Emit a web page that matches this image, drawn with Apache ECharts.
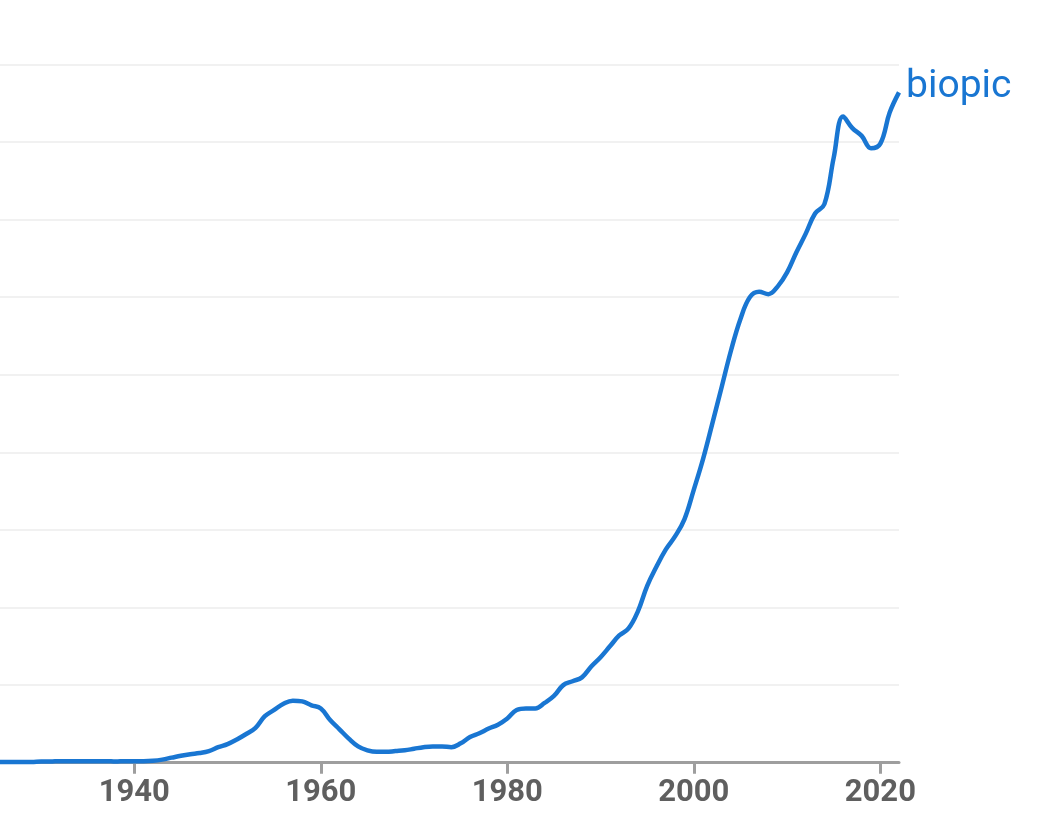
<!DOCTYPE html>
<html>
<head>
<meta charset="utf-8">
<script src="https://cdn.jsdelivr.net/npm/echarts@6/dist/echarts.min.js"></script>
<style>
  html, body { margin: 0; padding: 0; background: #ffffff; }
  #chart { width: 1048px; height: 838px; }
</style>
</head>
<body>
<div id="chart"></div>
<script>
// yearly values (one unit = one gridline)
const years = [];
for (let y = 1925; y <= 2022; y++) years.push(y);

const biopic = [
  0.01, 0.01, 0.01, 0.01, 0.01, 0.015, 0.015, 0.02, 0.02, 0.02,      // 1925-1934
  0.02, 0.02, 0.02, 0.015, 0.02, 0.02, 0.02, 0.025, 0.04, 0.065,     // 1935-1944
  0.09, 0.11, 0.125, 0.15, 0.2, 0.24, 0.30, 0.37, 0.45, 0.60,        // 1945-1954
  0.68, 0.76, 0.80, 0.79, 0.74, 0.70, 0.55, 0.43, 0.31, 0.21,        // 1955-1964
  0.16, 0.14, 0.14, 0.15, 0.16, 0.18, 0.20, 0.21, 0.21, 0.20,        // 1965-1974
  0.25, 0.33, 0.38, 0.44, 0.49, 0.57, 0.68, 0.70, 0.70, 0.77,        // 1975-1984
  0.86, 1.00, 1.05, 1.10, 1.24, 1.36, 1.50, 1.64, 1.73, 1.95,        // 1985-1994
  2.28, 2.53, 2.75, 2.92, 3.14, 3.52, 3.92, 4.38, 4.85, 5.32,        // 1995-2004
  5.72, 6.00, 6.07, 6.04, 6.14, 6.32, 6.58, 6.82, 7.08, 7.20,        // 2005-2014
  7.80, 8.33, 8.18, 8.08, 7.92, 7.98, 8.38, 8.64                     // 2015-2022
];

const tickYears = [1940, 1960, 1980, 2000, 2020];
const seriesName = 'biopic';

const chart = echarts.init(document.getElementById('chart'), null, { renderer: 'canvas' });

const option = {
  animation: false,
  grid: {
    left: 0,
    right: 149,
    top: 64.5,
    bottom: 75.3,
    containLabel: false
  },
  xAxis: {
    type: 'value',
    min: 1925.6,
    max: 2022,
    axisLine: {
      show: true,
      lineStyle: { color: '#9e9e9e', width: 3 }
    },
    axisTick: {
      show: true,
      customValues: tickYears,
      length: 11,
      lineStyle: { color: '#9e9e9e', width: 3 }
    },
    axisLabel: {
      customValues: tickYears,
      color: '#5f5f5f',
      fontSize: 31,
      fontWeight: 'bold',
      fontFamily: 'Roboto',
      margin: 15,
      formatter: (v) => String(v)
    },
    splitLine: { show: false }
  },
  yAxis: {
    type: 'value',
    min: 0,
    max: 9,
    interval: 1,
    axisLine: { show: false },
    axisTick: { show: false },
    axisLabel: { show: false },
    splitLine: {
      show: true,
      lineStyle: { color: '#f1f1f1', width: 2 }
    }
  },
  series: [
    {
      name: seriesName,
      type: 'line',
      data: years.map((y, i) => [y, biopic[i]]),
      smooth: 0.4,
      showSymbol: false,
      lineStyle: { color: '#1976d2', width: 4.5 },
      endLabel: {
        show: true,
        formatter: seriesName,
        color: '#1976d2',
        fontSize: 39,
        fontFamily: 'Roboto',
        distance: 7,
        offset: [0, -5]
      }
    }
  ]
};

chart.setOption(option);
</script>
</body>
</html>
